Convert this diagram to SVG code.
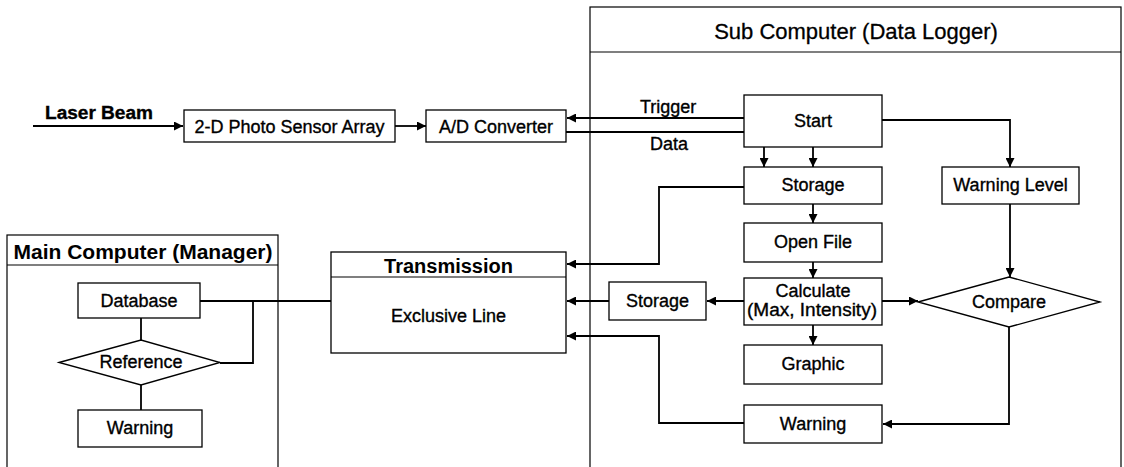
<svg xmlns="http://www.w3.org/2000/svg" width="1124" height="467" viewBox="0 0 1124 467">
  <defs>
    <marker id="arrow" viewBox="0 0 10 10" refX="10" refY="5" markerWidth="10" markerHeight="9" markerUnits="userSpaceOnUse" orient="auto">
      <path d="M0,0 L10,5 L0,10 Z" fill="#000"/>
    </marker>
    <style>
      .box { fill: #fff; stroke: #000; stroke-width: 1.3; }
      .frame { fill: none; stroke: #000; stroke-width: 1.2; }
      .wire { fill: none; stroke: #000; stroke-width: 1.8; }
      .arr { marker-end: url(#arrow); }
      text { font-family: "Liberation Sans", Arial, sans-serif; fill: #000; }
      .lbl { font-size: 18px; text-anchor: middle; stroke: #000; stroke-width: 0.35; }
      .side { font-size: 18px; stroke: #000; stroke-width: 0.35; }
      .title { font-size: 22px; text-anchor: middle; stroke: #000; stroke-width: 0.3; }
      .btitle { font-size: 21px; font-weight: bold; text-anchor: middle; }
    </style>
  </defs>
  <rect width="1124" height="467" fill="#fff"/>

  <!-- container frames -->
  <g id="sub-computer">
    <rect class="frame" x="590" y="7" width="531" height="470"/>
    <line class="frame" x1="590" y1="52" x2="1121" y2="52"/>
    <text class="title" x="856" y="39">Sub Computer (Data Logger)</text>
  </g>
  <g id="main-computer">
    <rect class="frame" x="7" y="235" width="271" height="242"/>
    <line class="frame" x1="7" y1="265" x2="278" y2="265"/>
    <text class="btitle" x="143" y="259">Main Computer (Manager)</text>
  </g>

  <!-- connectors -->
  <g id="connectors">
    <line class="wire arr" x1="33" y1="126" x2="183" y2="126"/>
    <line class="wire arr" x1="395" y1="126" x2="426" y2="126"/>
    <line class="wire arr" x1="744" y1="118" x2="567" y2="118"/>
    <polyline class="wire arr" points="566,132 764,132 764,167"/>
    <line class="wire arr" x1="813" y1="147" x2="813" y2="167"/>
    <polyline class="wire arr" points="882,120 1010,120 1010,167"/>
    <line class="wire arr" x1="813" y1="204" x2="813" y2="223"/>
    <polyline class="wire arr" points="744,187 659,187 659,264 567,264"/>
    <line class="wire arr" x1="813" y1="262" x2="813" y2="278"/>
    <line class="wire arr" x1="813" y1="325" x2="813" y2="345"/>
    <line class="wire arr" x1="744" y1="301" x2="707" y2="301"/>
    <line class="wire arr" x1="609" y1="301" x2="567" y2="301"/>
    <line class="wire arr" x1="882" y1="301" x2="918" y2="301"/>
    <line class="wire arr" x1="1010" y1="204" x2="1010" y2="277"/>
    <polyline class="wire arr" points="1009,327 1009,424 883,424"/>
    <polyline class="wire arr" points="744,423 659,423 659,336 567,336"/>
    <line class="wire" x1="200" y1="301" x2="331" y2="301"/>
    <polyline class="wire" points="253,301 253,363 220,363"/>
    <line class="wire" x1="141" y1="318" x2="141" y2="340"/>
    <line class="wire" x1="141" y1="385" x2="141" y2="410"/>
  </g>

  <!-- input chain -->
  <g id="laser-beam">
    <text class="side" x="45" y="119" font-weight="bold" textLength="108" lengthAdjust="spacingAndGlyphs">Laser Beam</text>
  </g>
  <g id="photo-sensor">
    <rect class="box" x="184" y="110" width="211" height="32"/>
    <text class="lbl" x="289.5" y="133">2-D Photo Sensor Array</text>
  </g>
  <g id="ad-converter">
    <rect class="box" x="426" y="110" width="140" height="32"/>
    <text class="lbl" x="496" y="133">A/D Converter</text>
  </g>
  <g id="trigger-label">
    <text class="side" x="640" y="113">Trigger</text>
  </g>
  <g id="data-label">
    <text class="side" x="650" y="150">Data</text>
  </g>

  <!-- sub computer flow -->
  <g id="start">
    <rect class="box" x="744" y="95" width="138" height="52"/>
    <text class="lbl" x="813" y="127">Start</text>
  </g>
  <g id="storage">
    <rect class="box" x="744" y="167" width="138" height="37"/>
    <text class="lbl" x="813" y="191">Storage</text>
  </g>
  <g id="warning-level">
    <rect class="box" x="942" y="167" width="137" height="37"/>
    <text class="lbl" x="1010.5" y="191">Warning Level</text>
  </g>
  <g id="open-file">
    <rect class="box" x="744" y="223" width="138" height="39"/>
    <text class="lbl" x="813" y="248">Open File</text>
  </g>
  <g id="calculate">
    <rect class="box" x="744" y="278" width="138" height="47"/>
    <text class="lbl" x="813" y="297">Calculate</text>
    <text class="lbl" x="812" y="316" textLength="130" lengthAdjust="spacingAndGlyphs">(Max, Intensity)</text>
  </g>
  <g id="compare">
    <polygon class="box" points="918,302 1009,277 1100,302 1009,327"/>
    <text class="lbl" x="1009" y="308">Compare</text>
  </g>
  <g id="graphic">
    <rect class="box" x="744" y="345" width="138" height="39"/>
    <text class="lbl" x="813" y="370">Graphic</text>
  </g>
  <g id="warning-sub">
    <rect class="box" x="744" y="405" width="138" height="38"/>
    <text class="lbl" x="813" y="430">Warning</text>
  </g>
  <g id="storage-local">
    <rect class="box" x="609" y="282" width="97" height="38"/>
    <text class="lbl" x="657.5" y="307">Storage</text>
  </g>

  <!-- transmission -->
  <g id="transmission">
    <rect class="box" x="331" y="252" width="235" height="101"/>
    <line class="frame" x1="331" y1="277" x2="566" y2="277"/>
    <text class="btitle" x="448.5" y="273" style="font-size:20px">Transmission</text>
    <text class="lbl" x="448.5" y="322">Exclusive Line</text>
  </g>

  <!-- main computer flow -->
  <g id="database">
    <rect class="box" x="78" y="283" width="122" height="35"/>
    <text class="lbl" x="139" y="307">Database</text>
  </g>
  <g id="reference">
    <polygon class="box" points="59,362.5 141,340 220,362.5 141,385"/>
    <text class="lbl" x="141" y="368">Reference</text>
  </g>
  <g id="warning-main">
    <rect class="box" x="78" y="410" width="124" height="37"/>
    <text class="lbl" x="140" y="434">Warning</text>
  </g>
</svg>
